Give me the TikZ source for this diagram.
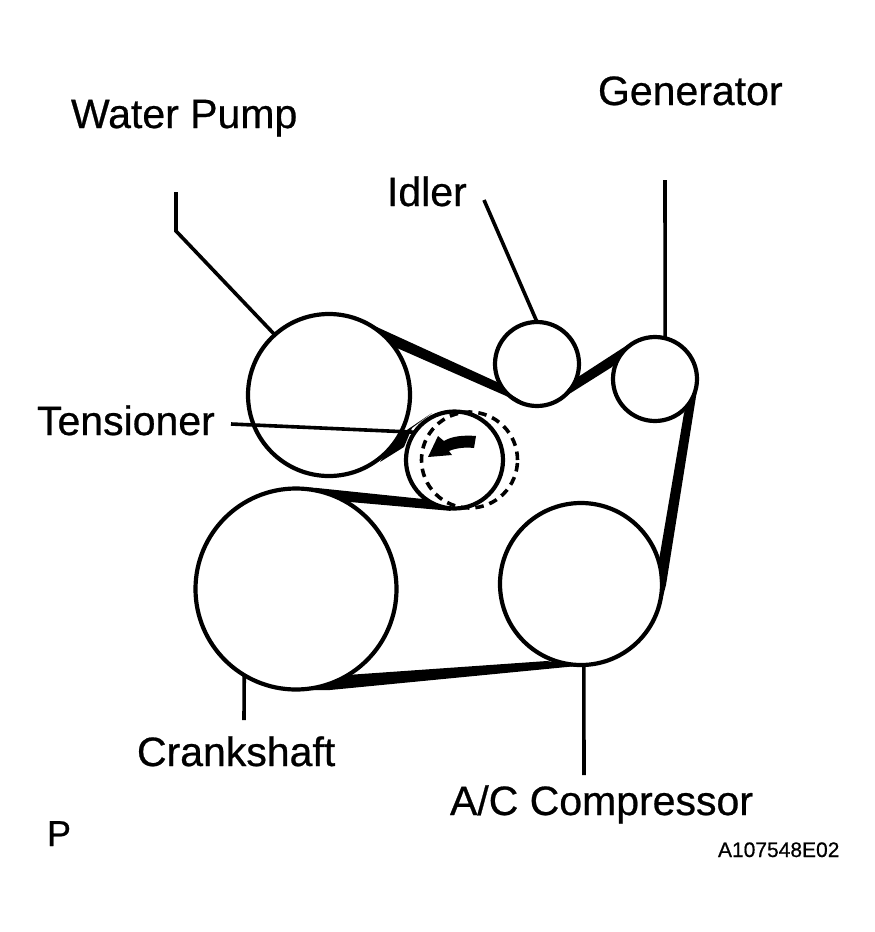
\documentclass[tikz,border=0pt]{standalone}
\usepackage{fontspec}
\setmainfont[FakeBold=0.6]{Liberation Sans}
\tikzset{
  pulley/.style={circle,draw=black,line width=4.2pt,inner sep=0pt,outer sep=0pt},
  lead/.style={draw=black,line width=3.6pt},
  lab/.style={inner sep=0pt,outer sep=0pt,anchor=base west,font=\fontsize{41}{48}\selectfont},
  belt/.style={fill=black,draw=none}
}
\begin{document}
\begin{tikzpicture}[x=1pt,y=-1pt]
\useasboundingbox (0,0) rectangle (875,932);
% belts
\path[belt] (368,323) -- (497,382) -- (505,391) -- (530,406) -- (513,399) -- (397,348) -- (390,342) -- cycle;
\path[belt] (558,401) -- (578,377) -- (632,342) -- (612,367) -- cycle;
\path[belt] (698,384) -- (684,413) -- (659,560) -- (661,604) -- (666,585) -- cycle;
\path[belt] (312,690) -- (347,675) -- (547,661) -- (577,666) -- (330,690) -- cycle;
\path[belt] (300,487) -- (317,488) -- (423,499) -- (452,511) -- (350,502) -- (322,493) -- cycle;
\path[belt] (380,462) -- (398,436) -- (432,413) -- (412,428) -- (404,447) -- cycle;
% pulleys
\node[pulley,minimum size=162pt] (wp) at (329,395) {};
\node[pulley,minimum size=84pt] (idler) at (537,364) {};
\node[pulley,minimum size=84pt] (gen) at (655,379) {};
\node[pulley,minimum size=97pt] (tens) at (454.5,460) {};
\node[pulley,minimum size=96pt,line width=3.6pt,dash pattern=on 8.5pt off 6pt] (tensb) at (469.5,460) {};
\node[pulley,minimum size=201pt] (crank) at (296,589) {};
\node[pulley,minimum size=162pt] (ac) at (581,584) {};
% rotation arrow
\path[belt] (428,457) -- (438,436) -- (444,441) .. controls (452,436) and (464,435) .. (476,436) -- (474,448) .. controls (465,447) and (456,448) .. (449,451) -- (452,455) -- cycle;
% labels
\node[lab] (lwp) at (71,128) {Water Pump};
\node[lab] (lgen) at (598,105) {Generator};
\node[lab] (lidl) at (387,206) {Idler};
\node[lab] (lten) at (37,435) {Tensioner};
\node[lab] (lcr) at (137,766) {Crankshaft};
\node[lab] (lac) at (450,815) {A/C Compressor};
\node[lab,font=\fontsize{36}{40}\selectfont] (lp) at (47,846) {P};
\node[lab,font=\fontsize{21}{24}\selectfont] (lcode) at (718,857) {A107548E02};
% leaders
\coordinate (c1) at (176,192);
\coordinate (c2) at (176,231);
\coordinate (c3) at (484,200);
\coordinate (c4) at (665,180);
\coordinate (c5) at (231,424);
\coordinate (c6) at (244,720);
\coordinate (c7) at (584,775);
\draw[lead] (c1) -- (c2) -- (wp.132);
\draw[lead] (c3) -- (idler.90);
\draw[lead] (c4) -- (gen.76);
\draw[lead] (c5) -- (tens.145);
\draw[lead] (c6) -- (crank.-121.3);
\draw[lead] (c7) -- (ac.-88);
\end{tikzpicture}
\end{document}
